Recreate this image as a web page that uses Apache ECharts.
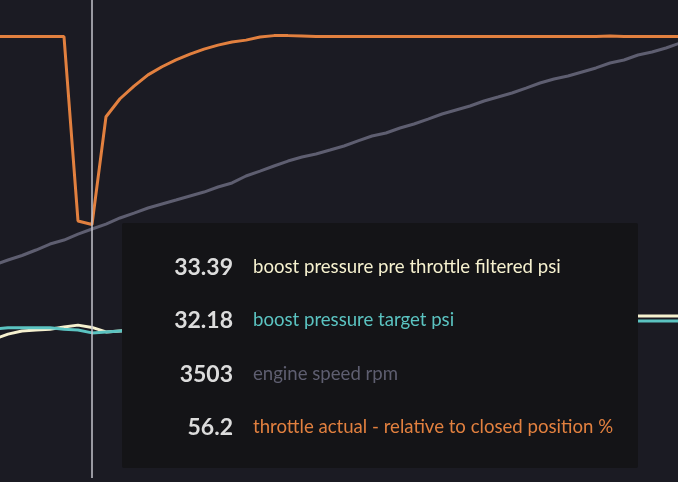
<!DOCTYPE html>
<html><head><meta charset="utf-8">
<script src="https://cdn.jsdelivr.net/npm/echarts@6/dist/echarts.min.js"></script>
<style>html,body{margin:0;padding:0;background:#1b1b23;overflow:hidden;}#c{width:678px;height:482px;}</style>
</head><body><div id="c"></div><script>
// sample times (s)
const times = [0.0,0.1,0.2,0.3,0.4,0.5,0.6,0.7,0.8,0.9,
  1.0,1.1,1.2,1.3,1.4,1.5,1.6,1.7,1.8,1.9,
  2.0,2.1,2.2,2.3,2.4,2.5,2.6,2.7,2.8,2.9,
  3.0,3.1,3.2,3.3,3.4,3.5,3.6,3.7,3.8,3.9,
  4.0,4.1,4.2,4.3,4.4,4.5,4.6,4.7,4.8,4.9];
const boostPre = [30.8,31.9,32.6,32.8,33.0,33.5,33.9,33.39,32.4,32.6,
  32.8,33.0,33.1,33.3,33.4,33.6,33.7,33.9,34.0,34.1,
  34.3,34.4,34.5,34.6,34.7,34.8,34.9,35.0,35.1,35.2,
  35.3,35.4,35.4,35.5,35.6,35.6,35.7,35.7,35.8,35.8,
  35.8,35.9,35.9,35.9,35.9,35.9,35.9,35.9,35.9,35.9];
const boostTarget = [33.0,33.3,33.3,33.3,33.3,33.0,32.8,32.18,32.4,32.6,
  32.7,32.8,32.9,33.0,33.1,33.2,33.3,33.4,33.5,33.6,
  33.7,33.8,33.9,34.0,34.0,34.1,34.2,34.3,34.3,34.4,
  34.4,34.5,34.5,34.6,34.6,34.7,34.7,34.7,34.8,34.8,
  34.8,34.8,34.8,34.8,34.8,34.8,34.8,34.8,34.8,34.8];
const engineSpeed = [3110,3165,3214,3274,3339,3383,3448,3503,3557,3623,
  3677,3732,3776,3819,3863,3906,3961,4005,4081,4135,
  4190,4244,4288,4321,4364,4408,4463,4517,4550,4604,
  4648,4702,4757,4801,4844,4899,4942,4986,5040,5095,
  5139,5171,5215,5259,5313,5346,5400,5433,5477,5531];
const throttle = [97.9,97.9,97.9,97.9,97.9,97.9,57.0,56.2,80.1,84.1,
  86.9,89.4,91.2,92.7,94.0,95.1,96.0,96.7,97.1,97.8,
  98.1,98.1,98.0,97.9,97.9,97.9,97.9,97.9,97.9,97.9,
  97.9,97.9,97.9,97.9,97.9,97.9,97.9,97.9,97.9,97.9,
  97.9,97.9,97.9,97.9,98.0,97.9,97.9,97.9,97.9,97.9];
const seriesNames = ['boost pressure pre throttle filtered psi','boost pressure target psi','engine speed rpm','throttle actual - relative to closed position %'];
const seriesColors = ['#f6f1cf','#5bc3c1','#5e5e70','#e2803f'];
const seriesDecimals = [2,2,0,1];
const cursorIndex = 7;

const chart = echarts.init(document.getElementById('c'), null, {renderer:'canvas'});
const dataSets = [boostPre, boostTarget, engineSpeed, throttle];
const axisOf = [0,0,1,0];
const option = {
  animation:false,
  backgroundColor:'#1b1b23',
  grid:{left:0,right:0,top:0,bottom:4,containLabel:false},
  xAxis:{type:'value',min:0.0429,max:4.8857,show:true,
    axisLine:{show:false},axisTick:{show:false},axisLabel:{show:false},splitLine:{show:false},
    axisPointer:{label:{show:false}}},
  yAxis:[
    {type:'value',min:0,max:106,show:false,splitLine:{show:false}},
    {type:'value',min:788,max:6000,show:false,splitLine:{show:false}}
  ],
  tooltip:{
    trigger:'axis',triggerOn:'none',alwaysShowContent:true,showDelay:0,hideDelay:0,
    transitionDuration:0,position:[122,223],backgroundColor:'#141417',borderWidth:0,padding:0,
    extraCssText:'box-shadow:none;border-radius:2px;width:516px;height:245px;box-sizing:border-box;',
    axisPointer:{type:'line',animation:false,snap:true,lineStyle:{color:'#c4c4cc',width:1.5,type:'solid'},label:{show:false}},
    formatter:function(params){
      let h='<div style="padding-top:17px;font-family:Lato,sans-serif;white-space:nowrap;">';
      params.forEach(function(p){
        const i=p.seriesIndex;
        const v=Array.isArray(p.value)?p.value[1]:p.value;
        h+='<div style="display:flex;align-items:center;height:53.3px;">'+
          '<span style="display:inline-block;width:111px;text-align:right;font-weight:700;font-size:23px;color:#dcdcdc;">'+
          Number(v).toFixed(seriesDecimals[i])+'</span>'+
          '<span style="margin-left:20px;font-size:18.6px;color:'+seriesColors[i]+';">'+p.seriesName+'</span></div>';
      });
      return h+'</div>';
    }
  },
  series: dataSets.map(function(d,i){
    return {name:seriesNames[i],type:'line',data:times.map(function(t,k){return [t,d[k]];}),
      yAxisIndex:axisOf[i],symbol:'none',clip:true,
      lineStyle:{color:seriesColors[i],width:3},itemStyle:{color:seriesColors[i]},
      emphasis:{disabled:true},z:2+i};
  })
};
chart.setOption(option);
chart.dispatchAction({type:'showTip',seriesIndex:0,dataIndex:cursorIndex});
</script></body></html>
